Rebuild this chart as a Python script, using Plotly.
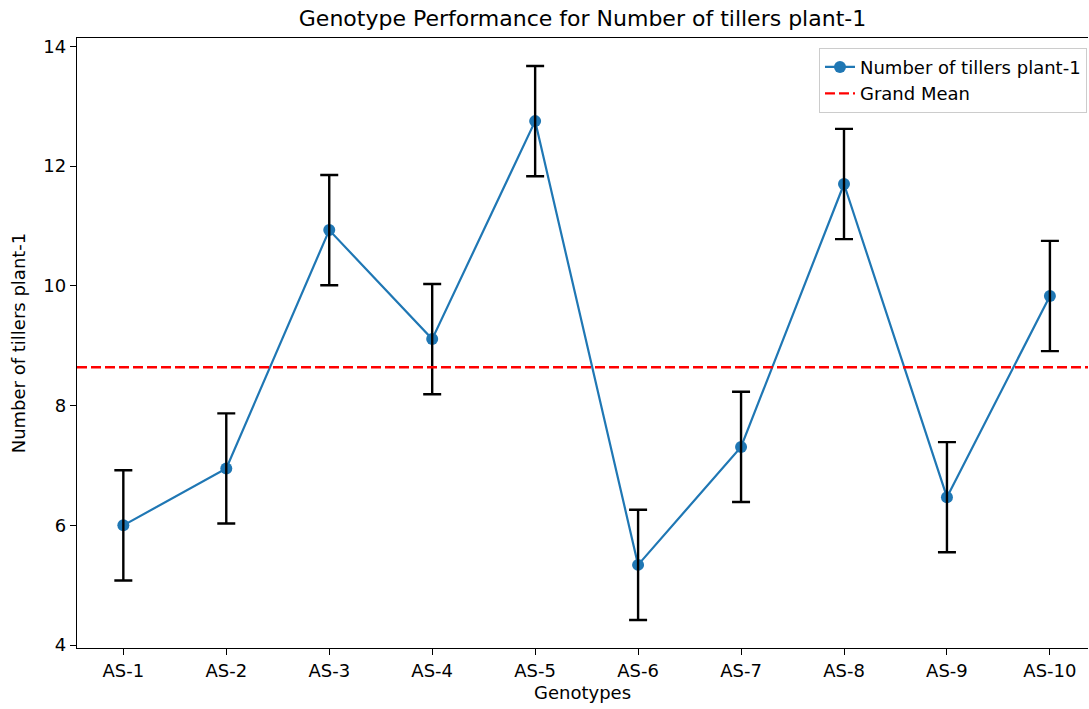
import plotly.graph_objects as go

# genotype means and their error
genotypes = ["AS-1", "AS-2", "AS-3", "AS-4", "AS-5", "AS-6", "AS-7", "AS-8", "AS-9", "AS-10"]
tillers = [6.00, 6.95, 10.93, 9.11, 12.75, 5.34, 7.31, 11.70, 6.47, 9.83]
errors = [0.92, 0.92, 0.92, 0.92, 0.92, 0.92, 0.92, 0.92, 0.92, 0.92]
grand_mean = sum(tillers) / len(tillers)

BLUE = "#1f77b4"
FONT = "DejaVu Sans"

xpos = list(range(len(genotypes)))

fig = go.Figure()

fig.add_trace(
    go.Scatter(
        x=xpos,
        y=tillers,
        mode="lines+markers",
        name="Number of tillers plant-1",
        line=dict(color=BLUE, width=2.2),
        marker=dict(color=BLUE, size=12),
    )
)

# error bars drawn on top of the markers, like the original
fig.add_trace(
    go.Scatter(
        x=xpos,
        y=tillers,
        mode="markers",
        marker=dict(color="rgba(0,0,0,0)", size=1),
        error_y=dict(type="data", array=errors, color="black", thickness=2.4, width=9),
        showlegend=False,
        hoverinfo="skip",
    )
)

# grand mean as a dashed horizontal line spanning the axis
fig.add_trace(
    go.Scatter(
        x=[-0.45, 9.37],
        y=[grand_mean, grand_mean],
        mode="lines",
        name="Grand Mean",
        line=dict(color="red", width=2.4, dash="10px,4px"),
        hoverinfo="skip",
    )
)

fig.update_layout(
    width=1089,
    height=709,
    plot_bgcolor="white",
    paper_bgcolor="white",
    font=dict(family=FONT, size=18, color="black"),
    margin=dict(l=77, r=1, t=38, b=61),
    title=dict(
        text="Genotype Performance for Number of tillers plant-1",
        x=0.5,
        xanchor="center",
        xref="paper",
        y=1 - 18 / 709,
        yanchor="middle",
        font=dict(size=22),
    ),
    showlegend=True,
    legend=dict(
        x=0.999,
        xanchor="right",
        y=0.984,
        yanchor="top",
        bgcolor="rgba(255,255,255,0.8)",
        bordercolor="#cccccc",
        borderwidth=1,
        font=dict(size=18),
        tracegroupgap=0,
    ),
)

fig.update_xaxes(
    title=dict(text="Genotypes", font=dict(size=18), standoff=6),
    tickmode="array",
    tickvals=xpos,
    ticktext=genotypes,
    tickfont=dict(size=18),
    range=[-0.45, 9.37],
    showgrid=False,
    zeroline=False,
    showline=True,
    linecolor="black",
    linewidth=1.4,
    mirror=True,
    ticks="outside",
    ticklen=6,
    tickwidth=1.4,
    tickcolor="black",
)

fig.update_yaxes(
    title=dict(text="Number of tillers plant-1", font=dict(size=18), standoff=12),
    range=[3.952, 14.138],
    tickvals=[4, 6, 8, 10, 12, 14],
    tickfont=dict(size=18),
    showgrid=False,
    zeroline=False,
    showline=True,
    linecolor="black",
    linewidth=1.4,
    ticks="outside",
    ticklen=6,
    tickwidth=1.4,
    tickcolor="black",
)

fig.write_html(
    "out.html",
    config={"displayModeBar": False},
    post_script="document.body.style.margin='0';",
)
